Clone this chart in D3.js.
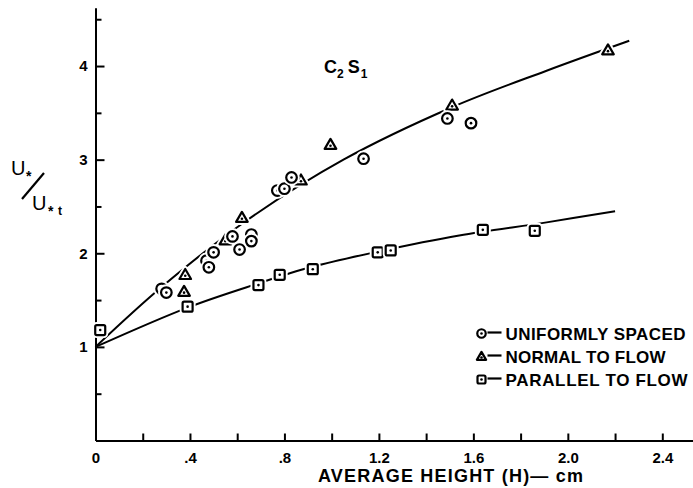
<!DOCTYPE html>
<html lang="en">
  <head>
    <meta charset="utf-8">
    <script src="https://d3js.org/d3.v7.min.js"></script>
    <title>u*/u*t vs average height</title>
    <style>
      body { margin:0; background:#fff; }
      text { font-family:"Liberation Sans", Arial, sans-serif; fill:#000; }
      .axis path, .axis line { stroke:#000; stroke-width:2; }
      .axis text { font-size:15px; font-weight:bold; }
    </style>
  </head>
  <body>
    <script>

      // data

      var uniformX = [0.28, 0.30, 0.47, 0.48, 0.50, 0.58, 0.61, 0.66, 0.66, 0.77, 0.80, 0.83, 1.135, 1.49, 1.59];
      var uniformY = [1.62, 1.58, 1.92, 1.85, 2.01, 2.18, 2.04, 2.20, 2.13, 2.67, 2.69, 2.81, 3.01, 3.44, 3.39];

      var normalX = [0.38, 0.375, 0.55, 0.62, 0.87, 0.995, 1.51, 2.17];
      var normalY = [1.77, 1.59, 2.14, 2.38, 2.78, 3.16, 3.58, 4.17];

      var parallelX = [0.02, 0.39, 0.69, 0.78, 0.92, 1.195, 1.25, 1.64, 1.86];
      var parallelY = [1.18, 1.43, 1.66, 1.77, 1.83, 2.01, 2.03, 2.25, 2.24];

      // fitted curves as drawn on the figure
      var upperCurve = [[0,1],[0.28,1.64],[0.64,2.35],[1.05,3.0],[1.51,3.56],[1.91,3.95],[2.26,4.27]];
      var lowerCurve = [[0,1],[0.39,1.42],[0.68,1.67],[0.91,1.85],[1.2,2.02],[1.54,2.19],[1.91,2.33],[2.2,2.45]];

      var xTickValues = [0, 0.4, 0.8, 1.2, 1.6, 2.0, 2.4];
      var xTickLabels = ["0", ".4", ".8", "1.2", "1.6", "2.0", "2.4"];
      var xMinorTicks = [0.2, 0.4, 0.6, 0.8, 1.0, 1.2, 1.4, 1.6, 1.8, 2.0, 2.2, 2.4];
      var yTickValues = [1, 2, 3, 4];
      var yTickLabels = ["1", "2", "3", "4"];
      var yMinorTicks = [0.5, 1.5, 2.5, 3.5, 4.5];

      var legendLabels = ["UNIFORMLY SPACED", "NORMAL TO FLOW", "PARALLEL TO FLOW"];

      // SVG

      var width=693;
      var height=488;

      var svg=d3.select("body").append("svg").attr("width",width).attr("height",height);

      var x=d3.scaleLinear().domain([0,2.53]).range([95.5,693]);
      var y=d3.scaleLinear().domain([0,4.62]).range([440.5,8]);

      // X Axis

      svg.append("g").attr("class","axis").attr("transform","translate(0,440.5)")
        .call(d3.axisBottom(x).tickValues(xMinorTicks).tickSizeInner(-7).tickSizeOuter(0).tickFormat(""));

      svg.append("g").attr("class","axis").attr("transform","translate(0,440.5)")
        .call(d3.axisBottom(x).tickValues(xTickValues).tickSize(0).tickPadding(12)
          .tickFormat(function(d,i){ return xTickLabels[i]; }))
        .call(function(g){ g.select(".domain").remove(); });

      // Y Axis

      svg.append("g").attr("class","axis").attr("transform","translate(95.5,0)")
        .call(d3.axisLeft(y).tickValues(yMinorTicks).tickSizeInner(-6).tickSizeOuter(0).tickFormat(""));

      svg.append("g").attr("class","axis").attr("transform","translate(95.5,0)")
        .call(d3.axisLeft(y).tickValues(yTickValues).tickSizeInner(-9).tickSizeOuter(0).tickPadding(8)
          .tickFormat(function(d,i){ return yTickLabels[i]; }));

      // Curves

      var line=d3.line().x(function(d){return x(d[0]);}).y(function(d){return y(d[1]);})
        .curve(d3.curveCatmullRom);

      [upperCurve, lowerCurve].forEach(function(c){
        svg.append("path").attr("d",line(c)).attr("fill","none")
          .attr("stroke","#000").attr("stroke-width",2);
      });

      // Markers

      function marker(g, kind, s){
        var shape;
        if(kind=="circle"){
          shape=g.append("circle").attr("r",5.3*s);
        } else if(kind=="triangle"){
          shape=g.append("path").attr("d","M0,"+(-5.8*s)+"L"+(5.8*s)+","+(4.2*s)+"L"+(-5.8*s)+","+(4.2*s)+"Z")
            .attr("stroke-linejoin","round");
        } else {
          shape=g.append("rect").attr("x",-5*s).attr("y",-5*s).attr("width",10*s).attr("height",10*s).attr("rx",1.5);
        }
        // white halo so the curve breaks round the symbol
        var halo=shape.clone(false);
        halo.attr("fill","#fff").attr("stroke","#fff").attr("stroke-width",6).lower();
        shape.attr("fill","#fff").attr("stroke","#000").attr("stroke-width",2.2);
        g.append("circle").attr("cy",kind=="triangle"?1:0).attr("r",1.3).attr("fill","#000");
      }

      function plot(xs, ys, kind){
        svg.append("g").selectAll("g").data(xs).enter().append("g")
          .attr("transform",function(d,i){ return "translate("+x(d)+","+y(ys[i])+")"; })
          .each(function(){ marker(d3.select(this), kind, 1); });
      }

      plot(parallelX, parallelY, "square");
      plot(normalX, normalY, "triangle");
      plot(uniformX, uniformY, "circle");

      // Legend

      var kinds=["circle","triangle","square"];
      var legendRows=[333.5, 356.5, 379.5];
      var legendWidths=[180, 160, 182];

      legendLabels.forEach(function(t,i){
        var g=svg.append("g").attr("transform","translate(481.5,"+legendRows[i]+")");
        marker(g, kinds[i], 0.8);
        g.append("line").attr("x1",6).attr("x2",20).attr("y1",-1).attr("y2",-1)
          .attr("stroke","#000").attr("stroke-width",2.2);
        g.append("text").attr("x",24).attr("y",6.5).attr("font-size",17).attr("font-weight","bold")
          .attr("textLength",legendWidths[i]).attr("lengthAdjust","spacing").text(t);
      });

      // Labels

      svg.append("text").attr("x",318).attr("y",481.5).attr("font-size",18).attr("font-weight","bold")
        .attr("textLength",265).attr("lengthAdjust","spacing").text("AVERAGE HEIGHT (H)\u2014 cm");

      var tag=svg.append("text").attr("x",324).attr("y",73).attr("font-size",18).attr("font-weight","bold");
      tag.append("tspan").text("C");
      tag.append("tspan").attr("dy",5).attr("font-size",12).text("2");
      tag.append("tspan").attr("dy",-5).attr("dx",4).text("S");
      tag.append("tspan").attr("dy",5).attr("dx",1).attr("font-size",12).text("1");

      // y label u*/u*t
      svg.append("text").attr("x",11).attr("y",175).attr("font-size",20).text("U");
      svg.append("text").attr("x",26).attr("y",181).attr("font-size",14).attr("font-weight","bold").text("*");
      svg.append("line").attr("x1",22).attr("y1",199).attr("x2",44).attr("y2",173)
        .attr("stroke","#000").attr("stroke-width",2.2);
      svg.append("text").attr("x",32).attr("y",210).attr("font-size",20).text("U");
      svg.append("text").attr("x",48).attr("y",216).attr("font-size",14).attr("font-weight","bold").text("*");
      svg.append("text").attr("x",58).attr("y",215).attr("font-size",12).attr("font-weight","bold").text("t");

    </script>
  </body>
</html>
